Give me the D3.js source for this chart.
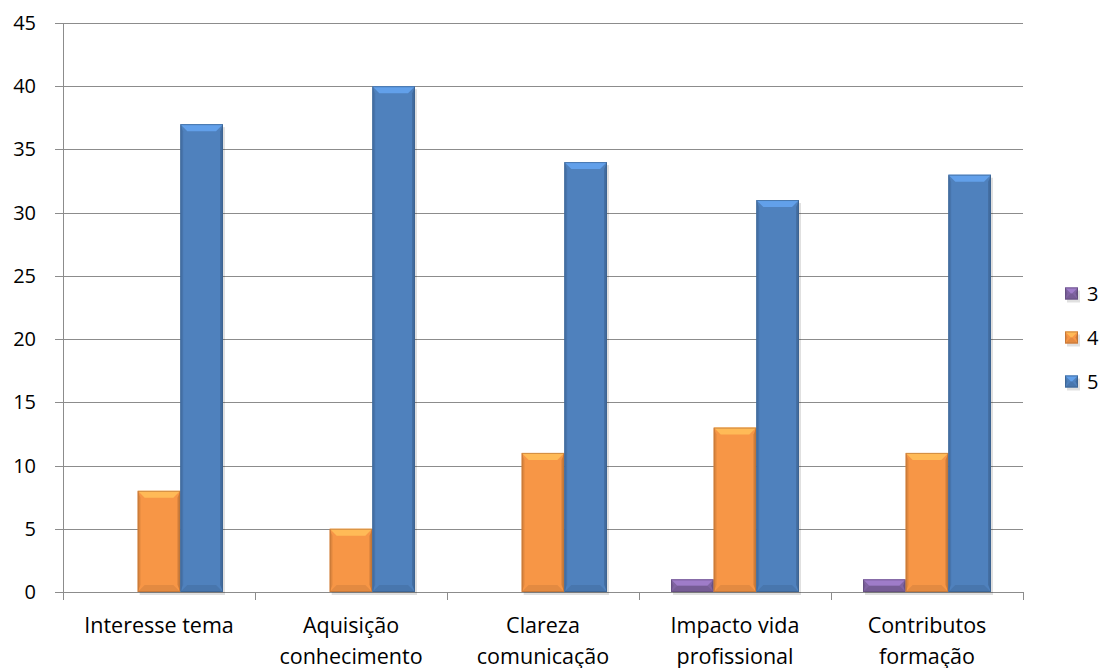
<!DOCTYPE html>
<html>
<head>
<meta charset="utf-8">
<script src="https://cdn.jsdelivr.net/npm/d3@7"></script>
<style>
  body { margin: 0; background: #fff; }
  text { font-family: "Open Sans", sans-serif; fill: #000; }
</style>
</head>
<body>
<svg id="chart" width="1101" height="668"></svg>
<script>
// chart data
const categories = [["Interesse tema"], ["Aquisição", "conhecimento"], ["Clareza", "comunicação"], ["Impacto vida", "profissional"], ["Contributos", "formação"]];
const seriesNames = ["3", "4", "5"];
const values3 = [0, 0, 0, 1, 1];
const values4 = [8, 5, 11, 13, 11];
const values5 = [37, 40, 34, 31, 33];
const yTicks = [0, 5, 10, 15, 20, 25, 30, 35, 40, 45];
const colors = ["#8064A2", "#F79646", "#4F81BD"];

const allSeries = [values3, values4, values5];

const svg = d3.select("#chart");
const plotLeft = 63, plotRight = 1023, plotTop = 23, plotBottom = 592;

const x = d3.scaleBand()
            .domain(d3.range(categories.length))
            .range([plotLeft, plotRight])
            .padding(0);

// gap width 150% like excel
const groupW = x.bandwidth() * 3 / 4.5;
const xs = d3.scaleBand()
             .domain(seriesNames)
             .range([(x.bandwidth() - groupW) / 2, (x.bandwidth() + groupW) / 2]);

const y = d3.scaleLinear().domain([0, 45]).range([plotBottom, plotTop]);

// gridlines
svg.append("g")
   .selectAll("line")
   .data(yTicks)
   .enter()
   .append("line")
   .attr("x1", plotLeft - 8)
   .attr("x2", plotRight)
   .attr("y1", d => Math.round(y(d)) + 0.5)
   .attr("y2", d => Math.round(y(d)) + 0.5)
   .attr("stroke", "#8c8c8c")
   .attr("stroke-width", 1);

// y labels
svg.append("g")
   .selectAll("text")
   .data(yTicks)
   .enter()
   .append("text")
   .attr("x", 36)
   .attr("y", d => y(d) + 7)
   .attr("text-anchor", "end")
   .attr("font-size", 20)
   .text(d => d);

// y axis line
svg.append("line")
   .attr("x1", plotLeft + 0.5).attr("x2", plotLeft + 0.5)
   .attr("y1", plotTop).attr("y2", plotBottom)
   .attr("stroke", "#8c8c8c");

// x axis ticks
svg.append("g")
   .selectAll("line")
   .data(d3.range(categories.length + 1))
   .enter()
   .append("line")
   .attr("x1", d => Math.round(plotLeft + d * x.bandwidth()) + 0.5)
   .attr("x2", d => Math.round(plotLeft + d * x.bandwidth()) + 0.5)
   .attr("y1", plotBottom)
   .attr("y2", plotBottom + 8)
   .attr("stroke", "#8c8c8c");

// x labels
categories.forEach((lines, i) => {
    const t = svg.append("text")
                 .attr("x", x(i) + x.bandwidth() / 2)
                 .attr("y", 633)
                 .attr("text-anchor", "middle")
                 .attr("font-size", 21.5);
    lines.forEach((s, k) => {
        t.append("tspan")
         .attr("x", x(i) + x.bandwidth() / 2)
         .attr("dy", k == 0 ? 0 : 31)
         .text(s);
    });
});

// bars with a bevel look
const bevel = 7;
function drawBar(g, bx, by, bw, bh, col) {
    const c = d3.color(col);
    const light = c.brighter(0.6).toString();
    const dark = c.darker(0.5).toString();
    const darker = c.darker(0.9).toString();
    const b = Math.min(bevel, bh / 2, bw / 2);
    // shadow
    g.append("rect")
     .attr("x", bx + 2).attr("y", by + 3)
     .attr("width", bw).attr("height", bh)
     .attr("fill", "#000").attr("opacity", 0.12);
    g.append("rect")
     .attr("x", bx).attr("y", by)
     .attr("width", bw).attr("height", bh)
     .attr("fill", col);
    // top bevel
    g.append("polygon")
     .attr("points", [[bx, by], [bx + bw, by], [bx + bw - b, by + b], [bx + b, by + b]].join(" "))
     .attr("fill", light);
    // left edge
    g.append("polygon")
     .attr("points", [[bx, by], [bx + b * 0.4, by + b], [bx + b * 0.4, by + bh - b], [bx, by + bh]].join(" "))
     .attr("fill", dark).attr("opacity", 0.6);
    // right edge
    g.append("polygon")
     .attr("points", [[bx + bw, by], [bx + bw - b * 0.4, by + b], [bx + bw - b * 0.4, by + bh - b], [bx + bw, by + bh]].join(" "))
     .attr("fill", darker).attr("opacity", 0.6);
    // bottom bevel
    g.append("polygon")
     .attr("points", [[bx, by + bh], [bx + bw, by + bh], [bx + bw - b, by + bh - b], [bx + b, by + bh - b]].join(" "))
     .attr("fill", dark).attr("opacity", 0.5);
    g.append("rect")
     .attr("x", bx + 0.5).attr("y", by + 0.5)
     .attr("width", bw - 1).attr("height", bh - 1)
     .attr("fill", "none").attr("stroke", darker).attr("stroke-width", 1).attr("opacity", 0.6);
}

const barsG = svg.append("g");
allSeries.forEach((vals, s) => {
    vals.forEach((v, i) => {
        if (v <= 0) return;
        const bx = x(i) + xs(seriesNames[s]);
        drawBar(barsG, bx, y(v), xs.bandwidth(), plotBottom - y(v), colors[s]);
    });
});

// legend
const legend = svg.append("g");
seriesNames.forEach((name, s) => {
    const ly = 293.5 + s * 44;
    drawBar(legend, 1065, ly - 6, 13, 12, colors[s]);
    legend.append("text")
          .attr("x", 1087)
          .attr("y", ly + 7)
          .attr("font-size", 20)
          .text(name);
});
</script>
</body>
</html>
